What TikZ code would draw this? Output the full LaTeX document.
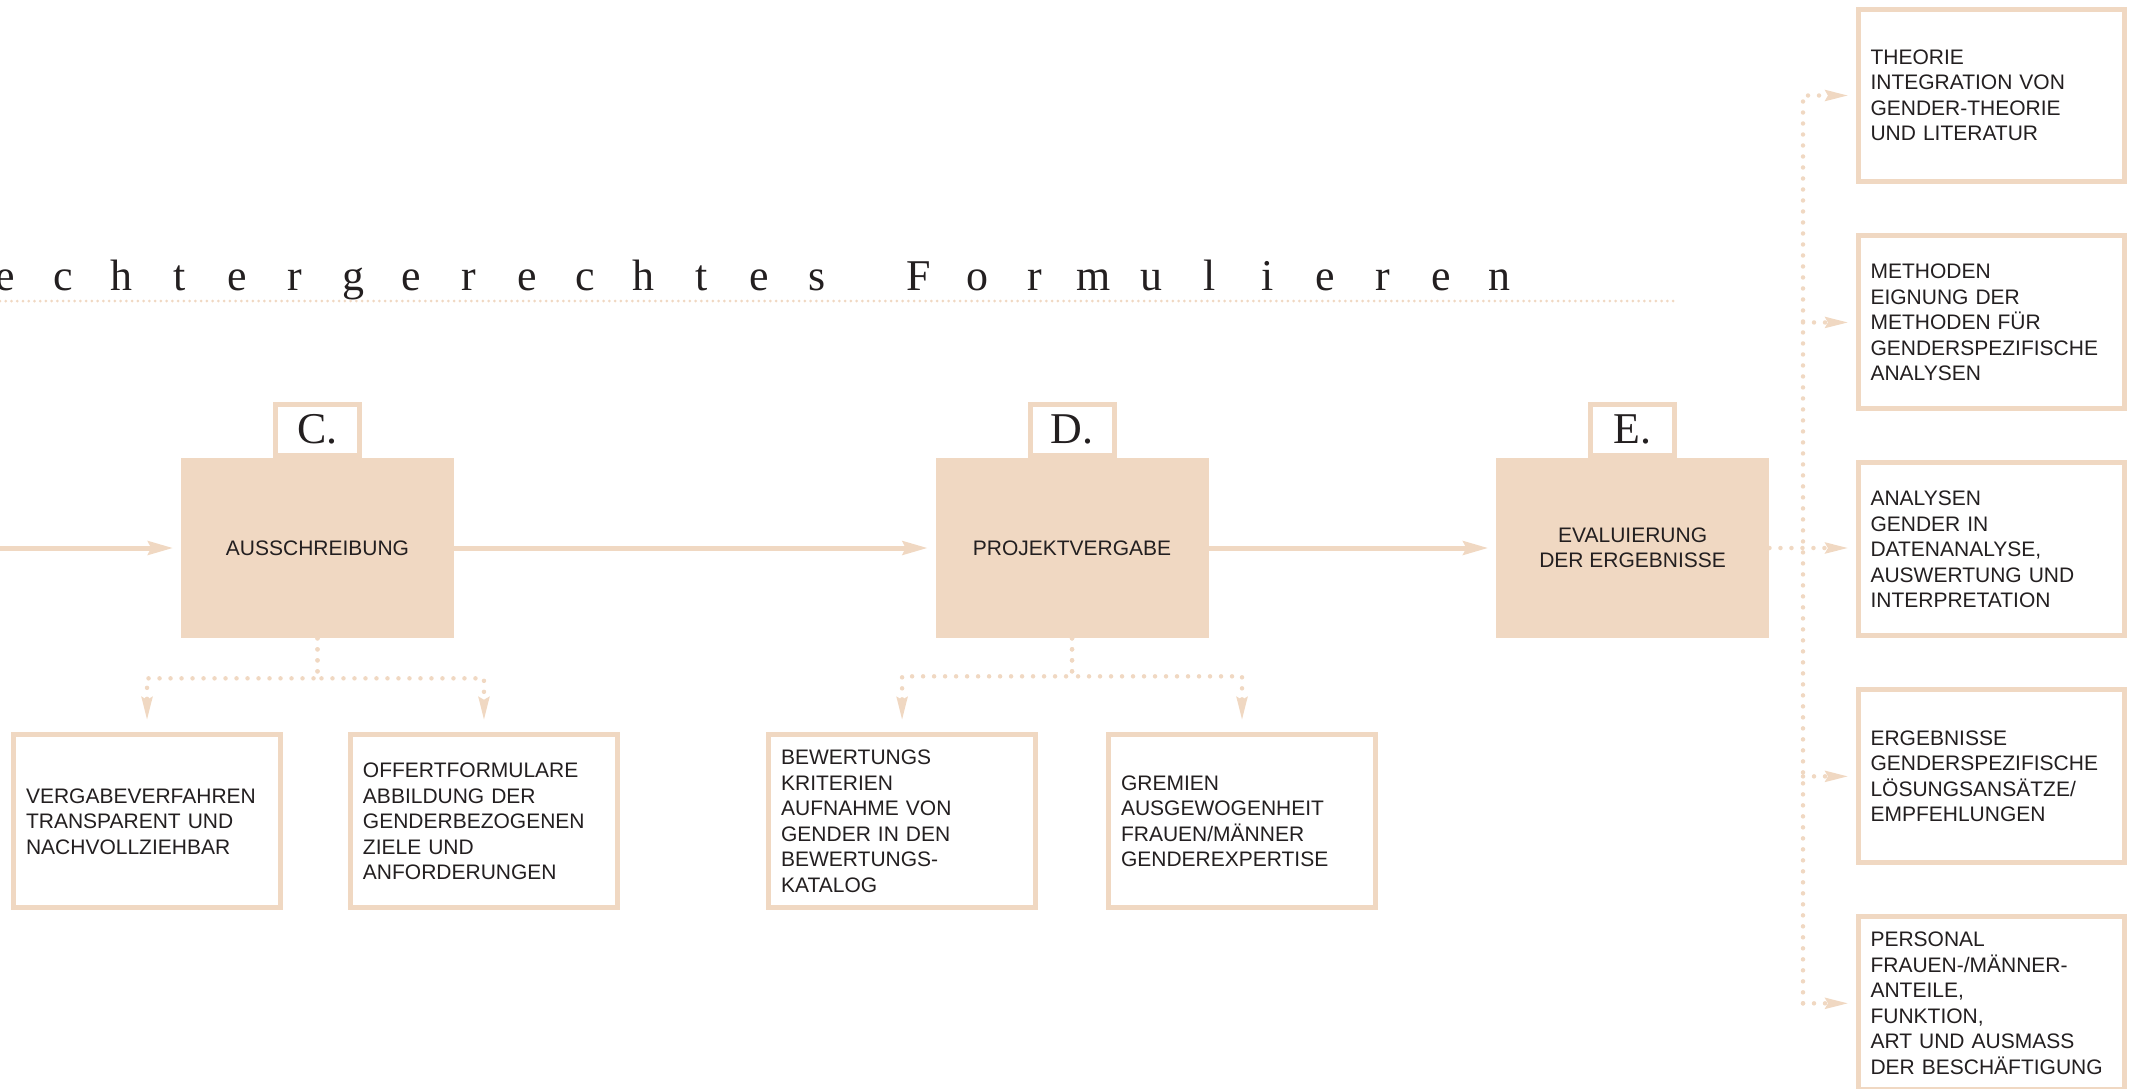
\documentclass[tikz,border=0pt]{standalone}
\usepackage{fontspec}
\setmainfont{Liberation Serif}
\setsansfont{Liberation Sans}
\usetikzlibrary{positioning,arrows.meta}
\definecolor{peach}{RGB}{240,216,194}
\definecolor{ink}{RGB}{35,31,32}
\newcommand{\sperrbox}[1]{\makebox[1.16cm][c]{#1}}
\def\sperr#1{\ifx#1\relax\else\sperrbox{#1}\expandafter\sperr\fi}

\begin{document}
\begin{tikzpicture}[x=0.02cm,y=-0.02cm,text=ink]
	\tikzstyle{phase}=[fill=peach, minimum width=5.46cm, minimum height=3.6cm, inner sep=0pt, align=center, font=\sffamily\fontsize{11.95}{14.2}\selectfont]
	\tikzstyle{tag}=[draw=peach, fill=white, line width=0.1cm, minimum width=1.68cm, minimum height=1.02cm, inner sep=0pt, font=\fontsize{25}{25}\selectfont]
	\tikzstyle{item}=[draw=peach, fill=white, line width=0.1cm, minimum width=5.34cm, minimum height=3.46cm, text width=4.84cm, inner sep=0.25cm, align=left, font=\sffamily\fontsize{11.95}{14.5}\selectfont]
	\tikzstyle{flow}=[draw=peach, line width=0.1cm, -{Stealth[length=0.5cm,width=0.27cm,inset=0.06cm]}, shorten >=0.15cm]
	\tikzstyle{dots}=[draw=peach, line width=0.09cm, line cap=round, dash pattern=on 0pt off 0.22cm, -{Stealth[length=0.46cm,width=0.21cm,inset=0.05cm]}, shorten >=0.14cm]
	\tikzstyle{rule}=[draw=peach, line width=0.06cm, line cap=round, dash pattern=on 0pt off 0.115cm]
	\useasboundingbox (0,0) rectangle (2138,1089);
	\clip (0,0) rectangle (2138,1089);
		\node[anchor=base west, inner sep=0pt, font=\fontsize{25}{25}\selectfont] (title) at (-24,290) {\sperr echtergerechtes\relax\hspace{0.88cm}\sperr Formulieren\relax};
		\coordinate (rulestart) at (0,301);
		\coordinate (ruleend) at (1674,301);
			\draw[rule] (rulestart) -- (ruleend);
		\coordinate (start) at (0,548);
		\node[phase] (C) at (317.5,548) {AUSSCHREIBUNG};
		\node[tag, above=0cm of C] (Ctag) {C.};
		\node[item, below=1.88cm of C, xshift=-3.41cm] (vergabe) {VERGABEVERFAHREN\\TRANSPARENT UND\\NACHVOLLZIEHBAR};
		\node[item, below=1.88cm of C, xshift=3.33cm] (offert) {OFFERTFORMULARE\\ABBILDUNG DER\\GENDERBEZOGENEN\\ZIELE UND\\ANFORDERUNGEN};
			\draw[flow] (start) -- (C);
			\draw[dots, shorten >=0.24cm] (C.south) -- ++(0,40) -| (vergabe.north);
			\draw[dots, shorten >=0.24cm] (C.south) -- ++(0,40) -| (offert.north);
		\node[phase, right=9.62cm of C] (D) {PROJEKTVERGABE};
		\node[tag, above=0cm of D] (Dtag) {D.};
		\node[item, below=1.88cm of D, xshift=-3.4cm] (bewertung) {BEWERTUNGS\\KRITERIEN\\AUFNAHME VON\\GENDER IN DEN\\BEWERTUNGS-\\KATALOG};
		\node[item, below=1.88cm of D, xshift=3.4cm] (gremien) {GREMIEN\\AUSGEWOGENHEIT\\FRAUEN/MÄNNER\\GENDEREXPERTISE};
			\draw[flow] (C) -- (D);
			\draw[dots, shorten >=0.24cm] (D.south) -- ++(0,38) -| (bewertung.north);
			\draw[dots, shorten >=0.24cm] (D.south) -- ++(0,38) -| (gremien.north);
		\node[phase, right=5.74cm of D] (E) {EVALUIERUNG\\DER ERGEBNISSE};
		\node[tag, above=0cm of E] (Etag) {E.};
			\draw[flow] (D) -- (E);
		\node[item] (theorie) at (1991.5,95.5) {THEORIE\\INTEGRATION VON\\GENDER-THEORIE\\UND LITERATUR};
		\node[item, below=0.98cm of theorie] (methoden) {METHODEN\\EIGNUNG DER\\METHODEN FÜR\\GENDERSPEZIFISCHE\\ANALYSEN};
		\node[item, below=0.98cm of methoden] (analysen) {ANALYSEN\\GENDER IN\\DATENANALYSE,\\AUSWERTUNG UND\\INTERPRETATION};
		\node[item, below=0.98cm of analysen] (ergebnisse) {ERGEBNISSE\\GENDERSPEZIFISCHE\\LÖSUNGSANSÄTZE/\\EMPFEHLUNGEN};
		\node[item, below=0.98cm of ergebnisse] (personal) {PERSONAL\\FRAUEN-/MÄNNER-\\ANTEILE,\\FUNKTION,\\ART UND AUSMASS\\DER BESCHÄFTIGUNG};
		\coordinate (bus) at (1803,549);
			\draw[dots] (E.east) -- (E.east -| analysen.west);
			\draw[dots] (personal.west -| bus) -- (theorie.west -| bus) -- (theorie.west);
			\foreach \n in {methoden,ergebnisse,personal}
				\draw[dots] (\n.west -| bus) -- (\n.west);
\end{tikzpicture}
\end{document}
